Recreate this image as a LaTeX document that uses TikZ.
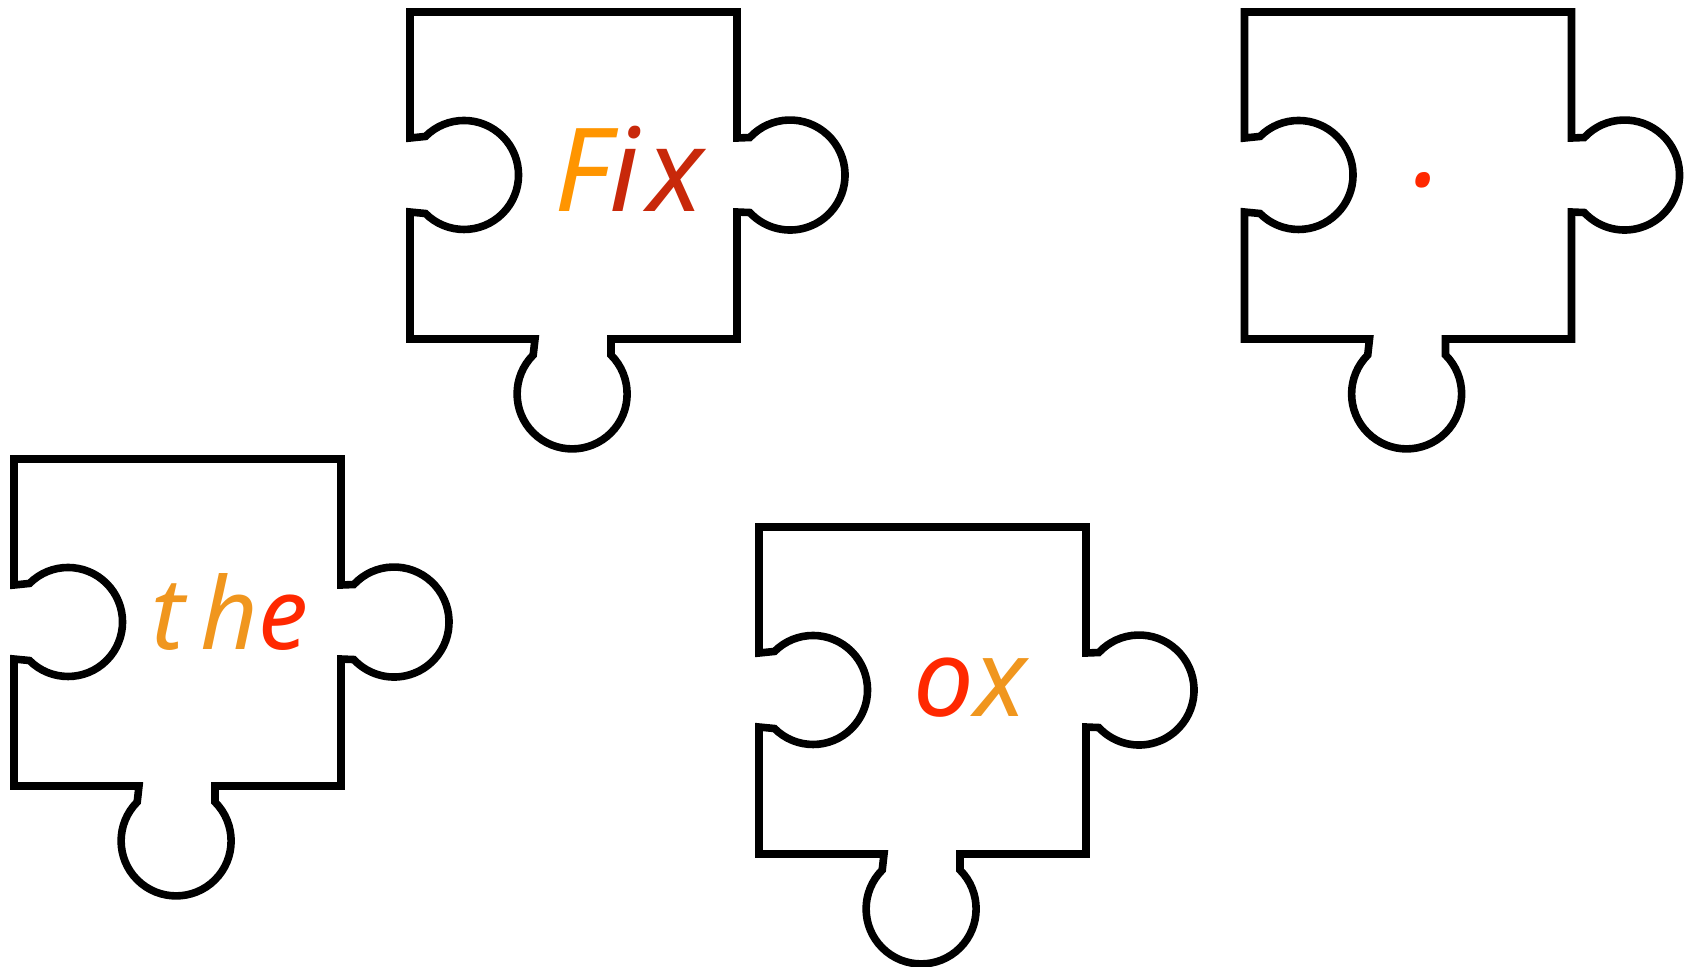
\documentclass[tikz,border=0pt]{standalone}
\usepackage{fontspec}
\newfontfamily\wordfont{Noto Sans}
\definecolor{forange}{RGB}{255,149,0}
\definecolor{fdark}{RGB}{200,40,10}
\definecolor{torange}{RGB}{240,150,30}
\definecolor{tred}{RGB}{255,40,0}
\begin{document}
\begin{tikzpicture}[x=0.5pt,y=0.5pt,
  pieceline/.style={draw=black,line width=3.8pt,line join=miter},
  word/.style={inner sep=0pt,anchor=base,font=\wordfont\itshape\fontsize{58}{62}\selectfont\addfontfeature{LetterSpace=7}},
  piece/.pic={
    \draw[pieceline] (0,0) -- (327,0) -- (327,-126) -- (339.8,-125.5)
      arc[start angle=137,end angle=-137,radius=55] -- (327,-200) -- (327,-327)
      -- (201,-327) -- (201,-343) arc[start angle=45,end angle=-225,radius=55]
      -- (125,-327) -- (0,-327) -- (0,-200) -- (15.5,-201.5)
      arc[start angle=-135,end angle=135,radius=54.5] -- (0,-126) -- cycle;
  }]
\useasboundingbox (0,0) rectangle (1684,-966);
\pic (p1) at (410,-12) {piece};
\pic (p2) at (1244.5,-12) {piece};
\pic (p3) at (14,-459) {piece};
\pic (p4) at (759,-527) {piece};
\node[word] (fix) at (629,-211) {\textcolor{forange}{F}\textcolor{fdark}{ix}};
\node[word] (dot) at (1428,-186) {\textcolor{tred}{.}};
\node[word,font=\wordfont\itshape\fontsize{50}{54}\selectfont\addfontfeature{LetterSpace=16}] (the) at (229.5,-649) {\textcolor{torange}{th}\textcolor{tred}{e}};
\node[word,font=\wordfont\itshape\fontsize{54}{58}\selectfont\addfontfeature{LetterSpace=10}] (ox) at (970,-716) {\textcolor{tred}{o}\textcolor{torange}{x}};
\end{tikzpicture}
\end{document}
